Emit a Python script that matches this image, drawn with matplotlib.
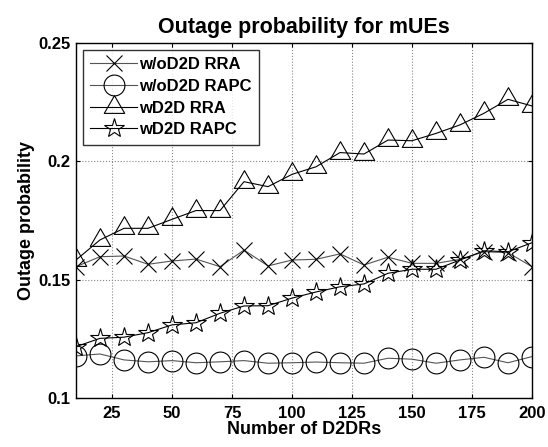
import matplotlib
matplotlib.use('Agg')
import matplotlib.pyplot as plt
from matplotlib.path import Path
import numpy as np

plt.rcParams['font.family'] = ['Liberation Sans', 'DejaVu Sans']
plt.rcParams['font.weight'] = 'bold'

x = np.arange(10, 201, 10)

# w/oD2D RRA
y_rra_no = [0.1555, 0.1597, 0.1600, 0.1565, 0.1579, 0.1587, 0.1555, 0.1625, 0.1558, 0.1583,
            0.1586, 0.1609, 0.1562, 0.1595, 0.1569, 0.1569, 0.1586, 0.1618, 0.1614, 0.1555]
# w/oD2D RAPC
y_rapc_no = [0.1178, 0.1186, 0.1161, 0.1153, 0.1158, 0.1149, 0.1153, 0.1158, 0.1147, 0.1149,
             0.1152, 0.1149, 0.1147, 0.1168, 0.1164, 0.1147, 0.1161, 0.1172, 0.1149, 0.1175]
# wD2D RRA
y_rra_d2d = [0.1583, 0.1668, 0.1717, 0.1717, 0.1755, 0.1792, 0.1792, 0.1914, 0.1893, 0.1945,
             0.1977, 0.2037, 0.2031, 0.2090, 0.2087, 0.2118, 0.2154, 0.2203, 0.2262, 0.2234]
# wD2D RAPC
y_rapc_d2d = [0.1217, 0.1252, 0.1257, 0.1276, 0.1309, 0.1318, 0.1358, 0.1389, 0.1390, 0.1422,
              0.1448, 0.1470, 0.1482, 0.1527, 0.1544, 0.1544, 0.1583, 0.1622, 0.1618, 0.1656]

# triangle centred on its centroid, like matlab's '^'
tri = Path([(0, 1), (-0.866, -0.5), (0.866, -0.5), (0, 1)],
           [Path.MOVETO, Path.LINETO, Path.LINETO, Path.CLOSEPOLY])

fig = plt.figure(figsize=(5.48, 4.47), dpi=100)
ax = fig.add_axes([0.1387, 0.1096, 0.8321, 0.7942])

ax.plot(x, y_rra_no, color='#555555', lw=0.8, marker='x', ms=12, mec='k', mew=0.8,
        label='w/oD2D RRA')
ax.plot(x, y_rapc_no, color='#555555', lw=0.8, marker='o', ms=15, mec='k', mfc='none', mew=0.8,
        label='w/oD2D RAPC')
ax.plot(x, y_rra_d2d, color='k', lw=0.8, marker=tri, ms=17, mec='k', mfc='none', mew=0.8,
        label='wD2D RRA')
ax.plot(x, y_rapc_d2d, color='k', lw=0.8, marker='*', ms=15, mec='k', mfc='none', mew=0.8,
        label='wD2D RAPC')

ax.set_xlim(10, 200)
ax.set_ylim(0.1, 0.25)
ax.set_xticks([25, 50, 75, 100, 125, 150, 175, 200])
ax.set_yticks([0.1, 0.15, 0.2, 0.25])
ax.set_yticklabels(['0.1', '0.15', '0.2', '0.25'])
ax.grid(True, color='#888888', linestyle=':', lw=0.8)
ax.tick_params(direction='in', labelsize=12, length=3, top=True, right=True)
ax.tick_params(axis='x', pad=6)
ax.tick_params(axis='y', pad=4)
for lab in ax.get_xticklabels() + ax.get_yticklabels():
    lab.set_fontweight('bold')
for s in ax.spines.values():
    s.set_linewidth(1.0)

ax.set_xlabel('Number of D2DRs', fontsize=13, fontweight='bold', labelpad=0)
ax.set_ylabel('Outage probability', fontsize=13, fontweight='bold', labelpad=2)
ax.set_title('Outage probability for mUEs', fontsize=15.5, fontweight='bold', pad=7)

leg = ax.legend(loc='upper left', fontsize=12, handlelength=2.8, frameon=True, fancybox=False,
                edgecolor='k', borderaxespad=0.4, labelspacing=0.4, handletextpad=0.15,
                borderpad=0.45)
leg.get_frame().set_linewidth(1.0)
for t in leg.get_texts():
    t.set_fontweight('bold')

fig.savefig('out.png', dpi=100)
